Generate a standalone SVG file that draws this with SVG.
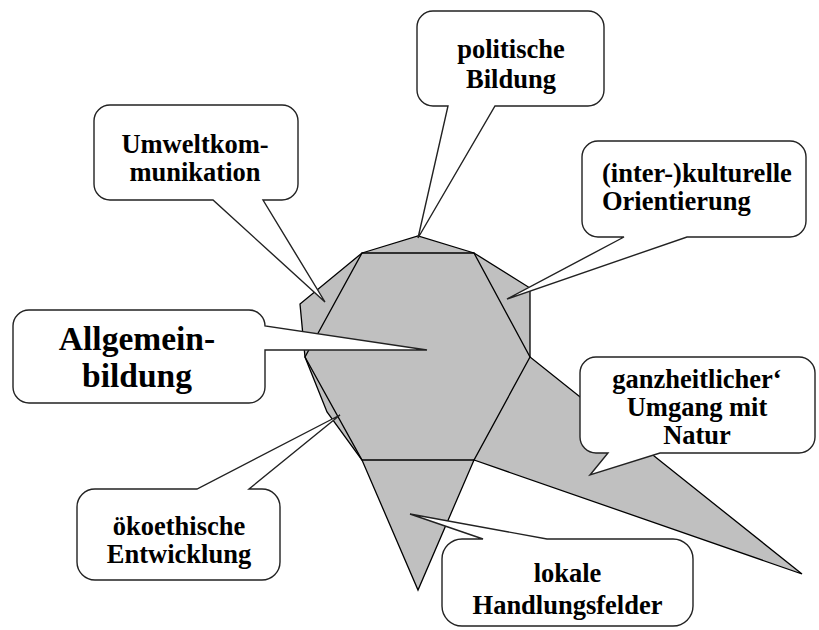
<svg xmlns="http://www.w3.org/2000/svg" width="819" height="630" viewBox="0 0 819 630">
<style>
.shape{fill:#c0c0c0;stroke:#000;stroke-width:1.3;stroke-linejoin:miter}
.edge{fill:none;stroke:#000;stroke-width:1.3}
.bub{fill:#fff;stroke:#222;stroke-width:1.4;stroke-linejoin:miter}
.t{font-family:"Liberation Serif","Times New Roman",serif;font-weight:bold;font-size:26.5px;fill:#000;text-anchor:middle}
.big{font-size:33.5px}
.l{text-anchor:start}
</style>
<rect width="819" height="630" fill="#fff"/>
<g id="figure">
<polygon class="shape" points="362,253 418,236 474,253 530,288 530,357 802,574 474,460 418,590 362,460 327,412 305,357 300,304"/>
<polygon class="edge" points="362,253 474,253 530,357 474,460 362,460 305,357"/>
</g>
<g id="connectors"></g>
<g id="politische">
<path class="bub" d="M433,11 H588 A16,16 0 0 1 604,27 V90 A16,16 0 0 1 588,106 H495 L418,238 L448,106 H433 A16,16 0 0 1 417,90 V27 A16,16 0 0 1 433,11 Z"/>
<text class="t" x="511" y="58">politische</text>
<text class="t" x="511" y="88">Bildung</text>
</g>
<g id="umwelt">
<path class="bub" d="M110,105 H282 A16,16 0 0 1 298,121 V184 A16,16 0 0 1 282,200 H263 L325,302 L213,200 H110 A16,16 0 0 1 94,184 V121 A16,16 0 0 1 110,105 Z"/>
<text class="t" x="195" y="153">Umweltkom-</text>
<text class="t" x="195" y="181">munikation</text>
</g>
<g id="kulturelle">
<path class="bub" d="M598,141 H790 A16,16 0 0 1 806,157 V221 A16,16 0 0 1 790,237 H687 L507,299 L624,237 H598 A16,16 0 0 1 582,221 V157 A16,16 0 0 1 598,141 Z"/>
<text class="t l" x="602" y="182">(inter-)kulturelle</text>
<text class="t l" x="602" y="210">Orientierung</text>
</g>
<g id="allgemein">
<path class="bub" d="M29,310 H249 A16,16 0 0 1 265,326 L427,350 L265,350 V387 A16,16 0 0 1 249,403 H29 A16,16 0 0 1 13,387 V326 A16,16 0 0 1 29,310 Z"/>
<text class="t big" x="137" y="350">Allgemein-</text>
<text class="t big" x="137" y="387">bildung</text>
</g>
<g id="ganzheitlich">
<path class="bub" d="M596,357 H799 A16,16 0 0 1 815,373 V437 A16,16 0 0 1 799,453 H660 L590,475 L608,453 H596 A16,16 0 0 1 580,437 V373 A16,16 0 0 1 596,357 Z"/>
<text class="t" x="697" y="388">ganzheitlicher‘</text>
<text class="t" x="697" y="416">Umgang mit</text>
<text class="t" x="697" y="444">Natur</text>
</g>
<g id="oekoethisch">
<path class="bub" d="M95,489 H197 L340,415 L249,489 H262 A18,18 0 0 1 280,507 V562 A18,18 0 0 1 262,580 H95 A18,18 0 0 1 77,562 V507 A18,18 0 0 1 95,489 Z"/>
<text class="t" x="179" y="535">ökoethische</text>
<text class="t" x="179" y="563">Entwicklung</text>
</g>
<g id="lokale">
<path class="bub" d="M462,539 H483 L410,514 L547,539 H673 A20,20 0 0 1 693,559 V606 A20,20 0 0 1 673,626 H462 A20,20 0 0 1 442,606 V559 A20,20 0 0 1 462,539 Z"/>
<text class="t" x="567.5" y="582">lokale</text>
<text class="t" x="567.5" y="614">Handlungsfelder</text>
</g>
</svg>
